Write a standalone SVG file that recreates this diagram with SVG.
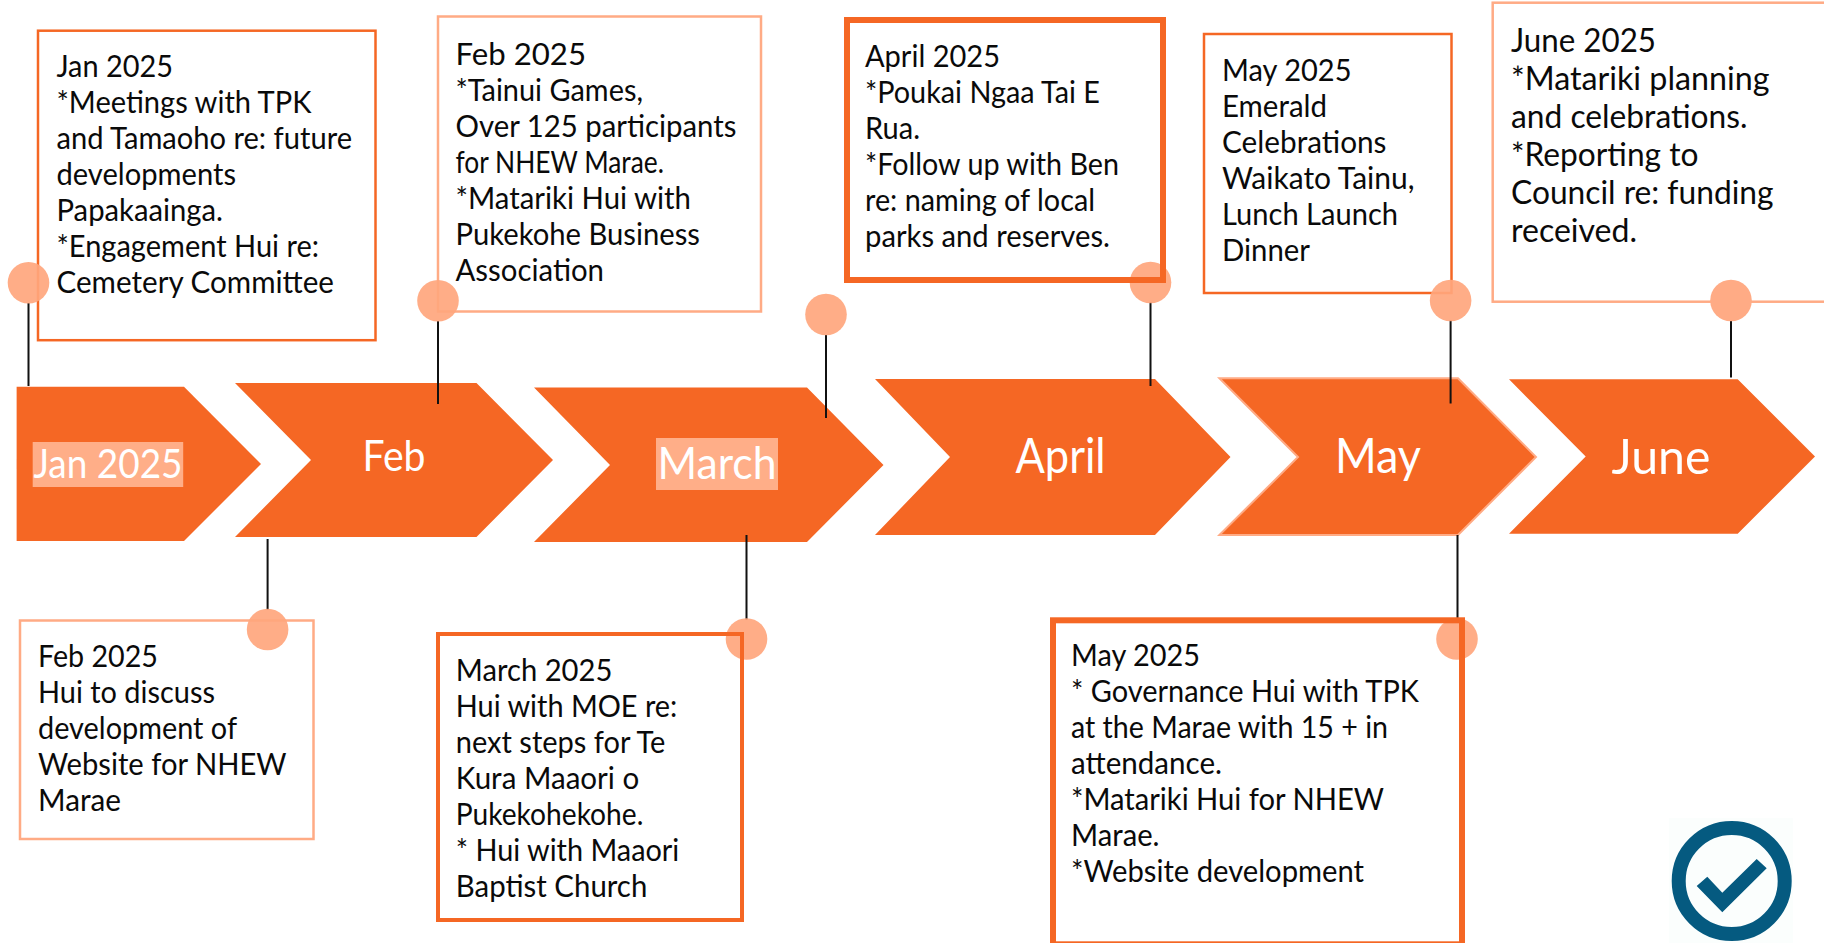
<svg xmlns="http://www.w3.org/2000/svg" width="1824" height="943" viewBox="0 0 1824 943">
<style>
text{font-family:Lato,"Liberation Sans",sans-serif}
.t{font-size:30px;fill:#0a0a0a}
.t6{font-size:32.5px;fill:#0a0a0a}
.l{fill:#fff}
.c{fill:#f56724}
.dot{fill:#ffa67d;fill-opacity:.92}
.b1{fill:none;stroke:#f56724;stroke-width:2.5}
.b2{fill:none;stroke:#ffab85;stroke-width:2.5}
.b3{fill:none;stroke:#f56724;stroke-width:6}
.k{stroke:#111;stroke-width:2;fill:none}
.hl{fill:#ffae88}
</style>
<g id="icon">
<rect x="1669" y="818" width="124" height="125" fill="#fbfefd"/>
<circle cx="1731.7" cy="881" r="53" fill="none" stroke="#055a80" stroke-width="14"/>
<polygon points="1696.7,886 1707.3,876.7 1722.3,892.7 1756.7,859 1766.7,868.3 1722.3,912.3" fill="#055a80"/>
</g>
<g id="chevrons">
<g id="chev-jan"><polygon class="c" points="16.6,386.7 184,386.7 261,464 184,541 16.6,541"/><rect class="hl" x="32.7" y="442" width="150.5" height="45"/><text class="l" x="33.5" y="477.7" font-size="40" textLength="149" lengthAdjust="spacingAndGlyphs">Jan 2025</text></g>
<g id="chev-feb"><polygon class="c" points="235,383 476.5,383 553,460 476.5,537 235,537 311,460"/><text class="l" x="362.5" y="470.7" font-size="42" textLength="63" lengthAdjust="spacingAndGlyphs">Feb</text></g>
<g id="chev-march"><polygon class="c" points="534,387.5 807,387.5 883.5,465 807,542 534,542 610,465"/><rect class="hl" x="656" y="438" width="122" height="52"/><text class="l" x="657.5" y="478.5" font-size="45" textLength="119" lengthAdjust="spacingAndGlyphs">March</text></g>
<g id="chev-april"><polygon class="c" points="875,379 1155,379 1230.5,457 1155,535 875,535 950,457"/><text class="l" x="1015.6" y="473" font-size="48" textLength="90" lengthAdjust="spacingAndGlyphs">April</text></g>
<g id="chev-may"><polygon class="c" stroke="#ffab85" stroke-width="2" points="1219.4,378.3 1458,378.3 1536,457 1458,535 1219.4,535 1298,457"/><text class="l" x="1335" y="473" font-size="48" textLength="86" lengthAdjust="spacingAndGlyphs">May</text></g>
<g id="chev-june"><polygon class="c" points="1509,379.3 1737.7,379.3 1815,456.5 1737.7,533.7 1509,533.7 1585.7,456.5"/><text class="l" x="1611.5" y="473.5" font-size="48" textLength="99" lengthAdjust="spacingAndGlyphs">June</text></g>
</g>
<g id="connectors">
<path class="k" d="M28.5 303V386M438 321V404M826 335V418M1150.5 302V386M1450.6 320V403.5M1731 320V377.5M267.6 539V610M746.5 535V620M1457.5 535V620"/>
</g>
<g id="box-jan"><rect class="b1" x="38" y="30.7" width="337.5" height="309.5"/>
<text class="t" x="56.5" y="76.5" textLength="116.5" lengthAdjust="spacingAndGlyphs">Jan 2025</text>
<text class="t" x="56.5" y="112.5" textLength="255" lengthAdjust="spacingAndGlyphs">*Meetings with TPK</text>
<text class="t" x="56.5" y="148.5" textLength="295.5" lengthAdjust="spacingAndGlyphs">and Tamaoho re: future</text>
<text class="t" x="56.5" y="184.5" textLength="179.5" lengthAdjust="spacingAndGlyphs">developments</text>
<text class="t" x="56.5" y="220.5" textLength="166.5" lengthAdjust="spacingAndGlyphs">Papakaainga.</text>
<text class="t" x="56.5" y="256.5" textLength="262.5" lengthAdjust="spacingAndGlyphs">*Engagement Hui re:</text>
<text class="t" x="56.5" y="292.5" textLength="277.5" lengthAdjust="spacingAndGlyphs">Cemetery Committee</text>
<circle class="dot" cx="28.5" cy="282.7" r="20.8"/></g>
<g id="box-feb"><rect class="b2" x="438" y="16.5" width="323" height="295"/>
<text class="t" x="455.5" y="64.5" textLength="130.5" lengthAdjust="spacingAndGlyphs">Feb 2025</text>
<text class="t" x="455.5" y="101" textLength="187.5" lengthAdjust="spacingAndGlyphs">*Tainui Games,</text>
<text class="t" x="455.5" y="137" textLength="281" lengthAdjust="spacingAndGlyphs">Over 125 participants</text>
<text class="t" x="455.5" y="173" textLength="208.5" lengthAdjust="spacingAndGlyphs">for NHEW Marae.</text>
<text class="t" x="455.5" y="209" textLength="235.5" lengthAdjust="spacingAndGlyphs">*Matariki Hui with</text>
<text class="t" x="455.5" y="245" textLength="244.5" lengthAdjust="spacingAndGlyphs">Pukekohe Business</text>
<text class="t" x="455.5" y="281" textLength="148.5" lengthAdjust="spacingAndGlyphs">Association</text>
<circle class="dot" cx="438" cy="300.7" r="20.8"/></g>
<circle id="dot-march" class="dot" cx="826" cy="314.5" r="20.8"/>
<g id="box-april"><circle class="dot" cx="1150.5" cy="282.5" r="20.8"/><rect class="b3" x="847" y="20" width="316" height="260"/>
<text class="t" x="865" y="67" textLength="135" lengthAdjust="spacingAndGlyphs">April 2025</text>
<text class="t" x="865" y="103" textLength="235" lengthAdjust="spacingAndGlyphs">*Poukai Ngaa Tai E</text>
<text class="t" x="865" y="139" textLength="55" lengthAdjust="spacingAndGlyphs">Rua.</text>
<text class="t" x="865" y="175" textLength="254" lengthAdjust="spacingAndGlyphs">*Follow up with Ben</text>
<text class="t" x="865" y="211" textLength="230" lengthAdjust="spacingAndGlyphs">re: naming of local</text>
<text class="t" x="865" y="247" textLength="245" lengthAdjust="spacingAndGlyphs">parks and reserves.</text></g>
<g id="box-may"><rect class="b1" x="1204" y="34" width="247.5" height="259"/>
<text class="t" x="1222" y="81" textLength="129.5" lengthAdjust="spacingAndGlyphs">May 2025</text>
<text class="t" x="1222" y="117" textLength="105" lengthAdjust="spacingAndGlyphs">Emerald</text>
<text class="t" x="1222" y="153" textLength="164.5" lengthAdjust="spacingAndGlyphs">Celebrations</text>
<text class="t" x="1222" y="189" textLength="192.5" lengthAdjust="spacingAndGlyphs">Waikato Tainu,</text>
<text class="t" x="1222" y="225" textLength="176" lengthAdjust="spacingAndGlyphs">Lunch Launch</text>
<text class="t" x="1222" y="261" textLength="88" lengthAdjust="spacingAndGlyphs">Dinner</text>
<circle class="dot" cx="1450.6" cy="300.5" r="20.8"/></g>
<g id="box-june"><rect class="b2" x="1492.7" y="2.7" width="340" height="299"/>
<text class="t6" x="1511" y="51.7" textLength="145" lengthAdjust="spacingAndGlyphs">June 2025</text>
<text class="t6" x="1511" y="90" textLength="258.5" lengthAdjust="spacingAndGlyphs">*Matariki planning</text>
<text class="t6" x="1511" y="128" textLength="236.5" lengthAdjust="spacingAndGlyphs">and celebrations.</text>
<text class="t6" x="1511" y="165.7" textLength="187.5" lengthAdjust="spacingAndGlyphs">*Reporting to</text>
<text class="t6" x="1511" y="204" textLength="262.5" lengthAdjust="spacingAndGlyphs">Council re: funding</text>
<text class="t6" x="1511" y="241.7" textLength="126" lengthAdjust="spacingAndGlyphs">received.</text>
<circle cx="1731" cy="300.5" r="20.8" fill="#ffab85"/></g>
<g id="box-feb-low"><rect class="b2" x="20" y="620.5" width="293.5" height="218.5"/>
<text class="t" x="38" y="666.5" textLength="120" lengthAdjust="spacingAndGlyphs">Feb 2025</text>
<text class="t" x="38" y="702.5" textLength="177" lengthAdjust="spacingAndGlyphs">Hui to discuss</text>
<text class="t" x="38" y="738.5" textLength="199" lengthAdjust="spacingAndGlyphs">development of</text>
<text class="t" x="38" y="774.5" textLength="248.5" lengthAdjust="spacingAndGlyphs">Website for NHEW</text>
<text class="t" x="38" y="810.5" textLength="83" lengthAdjust="spacingAndGlyphs">Marae</text>
<circle class="dot" cx="267.6" cy="629.5" r="20.8"/></g>
<g id="box-march-low"><circle class="dot" cx="746.5" cy="639" r="20.8"/><rect class="b1" style="stroke-width:4" x="438" y="634" width="304" height="286"/>
<text class="t" x="455.8" y="680.5" textLength="156.5" lengthAdjust="spacingAndGlyphs">March 2025</text>
<text class="t" x="455.8" y="716.5" textLength="221.5" lengthAdjust="spacingAndGlyphs">Hui with MOE re:</text>
<text class="t" x="455.8" y="752.5" textLength="209.5" lengthAdjust="spacingAndGlyphs">next steps for Te</text>
<text class="t" x="455.8" y="788.5" textLength="183.5" lengthAdjust="spacingAndGlyphs">Kura Maaori o</text>
<text class="t" x="455.8" y="824.5" textLength="187.5" lengthAdjust="spacingAndGlyphs">Pukekohekohe.</text>
<text class="t" x="455.8" y="860.5" textLength="223.5" lengthAdjust="spacingAndGlyphs">* Hui with Maaori</text>
<text class="t" x="455.8" y="896.5" textLength="191.5" lengthAdjust="spacingAndGlyphs">Baptist Church</text></g>
<g id="box-may-low"><circle class="dot" cx="1457" cy="639" r="20.8"/><rect class="b3" x="1053" y="620.3" width="409" height="324"/>
<text class="t" x="1071" y="665.5" textLength="129" lengthAdjust="spacingAndGlyphs">May 2025</text>
<text class="t" x="1071" y="701.5" textLength="348" lengthAdjust="spacingAndGlyphs">* Governance Hui with TPK</text>
<text class="t" x="1071" y="737.5" textLength="317" lengthAdjust="spacingAndGlyphs">at the Marae with 15 + in</text>
<text class="t" x="1071" y="773.5" textLength="151" lengthAdjust="spacingAndGlyphs">attendance.</text>
<text class="t" x="1071" y="809.5" textLength="313" lengthAdjust="spacingAndGlyphs">*Matariki Hui for NHEW</text>
<text class="t" x="1071" y="845.5" textLength="88.5" lengthAdjust="spacingAndGlyphs">Marae.</text>
<text class="t" x="1071" y="882" textLength="293" lengthAdjust="spacingAndGlyphs">*Website development</text></g>
</svg>
